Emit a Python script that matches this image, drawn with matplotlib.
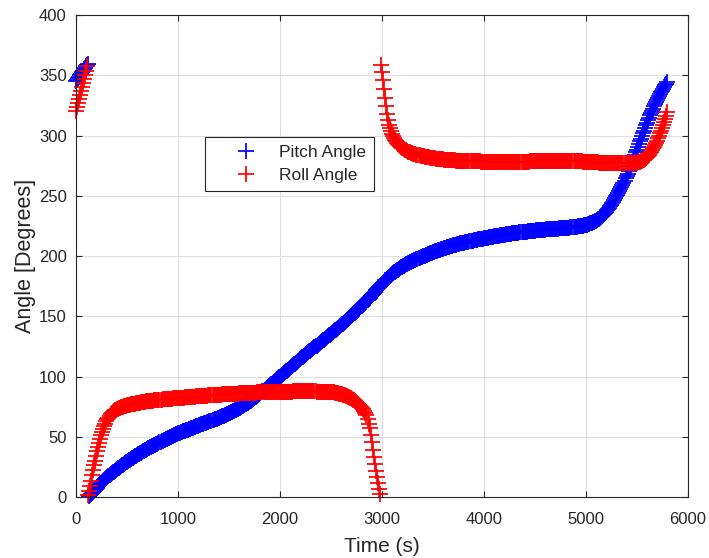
import numpy as np
import matplotlib
matplotlib.use("Agg")
import matplotlib.pyplot as plt

# ---------------- data ----------------
t0 = 0.0      # first sample time [s]
dt = 10.0     # sample spacing [s]

pitch_deg = [
    345.0, 346.3, 347.6, 348.9, 350.2, 351.5, 352.8, 354.0, 355.2, 356.4,   # 0
    357.6, 358.7, 359.8, 0.8, 1.7, 2.6, 3.5, 4.4, 5.3, 6.2,                  # 100
    7.1, 8.0, 8.9, 9.8, 10.7, 11.6, 12.5, 13.3, 14.1, 15.0,                  # 200
    15.8, 16.6, 17.4, 18.2, 19.0, 19.8, 20.5, 21.2, 22.0, 22.7,              # 300
    23.4, 24.0, 24.6, 25.2, 25.8, 26.4, 27.0, 27.6, 28.2, 28.8,              # 400
    29.4, 30.0, 30.6, 31.1, 31.7, 32.2, 32.8, 33.4, 33.9, 34.5,              # 500
    35.0, 35.5, 36.0, 36.5, 37.0, 37.5, 38.0, 38.5, 39.0, 39.5,              # 600
    40.0, 40.4, 40.9, 41.3, 41.8, 42.2, 42.7, 43.1, 43.6, 44.0,              # 700
    44.5, 44.9, 45.4, 45.8, 46.3, 46.7, 47.2, 47.6, 48.0, 48.5,              # 800
    48.9, 49.3, 49.7, 50.1, 50.5, 50.9, 51.3, 51.7, 52.1, 52.5,              # 900
    52.9, 53.2, 53.5, 53.8, 54.2, 54.5, 54.8, 55.1, 55.5, 55.8,              # 1000
    56.1, 56.4, 56.7, 57.1, 57.4, 57.7, 58.0, 58.3, 58.7, 59.0,              # 1100
    59.3, 59.6, 59.9, 60.3, 60.6, 60.9, 61.2, 61.5, 61.9, 62.2,              # 1200
    62.5, 62.8, 63.2, 63.5, 63.8, 64.2, 64.5, 64.9, 65.2, 65.6,              # 1300
    65.9, 66.3, 66.6, 67.0, 67.3, 67.7, 68.1, 68.5, 68.8, 69.2,              # 1400
    69.6, 70.0, 70.4, 70.8, 71.2, 71.7, 72.1, 72.5, 73.0, 73.4,              # 1500
    73.9, 74.4, 74.9, 75.4, 75.9, 76.4, 76.9, 77.4, 78.0, 78.5,              # 1600
    79.0, 79.6, 80.2, 80.8, 81.5, 82.1, 82.8, 83.5, 84.2, 84.9,              # 1700
    85.6, 86.3, 87.0, 87.7, 88.5, 89.2, 89.9, 90.6, 91.4, 92.1,              # 1800
    92.8, 93.5, 94.3, 95.0, 95.7, 96.4, 97.2, 97.9, 98.6, 99.3,              # 1900
    100.0, 100.7, 101.5, 102.2, 102.9, 103.6, 104.4, 105.1, 105.8, 106.5,    # 2000
    107.2, 107.9, 108.7, 109.4, 110.1, 110.8, 111.6, 112.3, 113.0, 113.7,    # 2100
    114.4, 115.1, 115.9, 116.6, 117.3, 118.0, 118.8, 119.5, 120.2, 120.9,    # 2200
    121.6, 122.3, 123.0, 123.7, 124.4, 125.1, 125.8, 126.5, 127.2, 127.9,    # 2300
    128.6, 129.3, 130.0, 130.7, 131.4, 132.1, 132.8, 133.5, 134.2, 134.9,    # 2400
    135.6, 136.3, 137.0, 137.7, 138.4, 139.1, 139.8, 140.5, 141.2, 141.9,    # 2500
    142.6, 143.3, 144.0, 144.8, 145.5, 146.2, 147.0, 147.7, 148.5, 149.2,    # 2600
    150.0, 150.8, 151.6, 152.4, 153.2, 154.0, 154.8, 155.6, 156.5, 157.4,    # 2700
    158.3, 159.2, 160.1, 161.0, 161.9, 162.8, 163.7, 164.6, 165.6, 166.6,    # 2800
    167.6, 168.6, 169.6, 170.6, 171.6, 172.6, 173.5, 174.5, 175.4, 176.3,    # 2900
    177.2, 178.1, 178.9, 179.8, 180.6, 181.4, 182.2, 183.0, 183.7, 184.4,    # 3000
    185.1, 185.8, 186.5, 187.1, 187.7, 188.3, 188.9, 189.5, 190.1, 190.6,    # 3100
    191.1, 191.6, 192.1, 192.6, 193.1, 193.6, 194.0, 194.5, 194.9, 195.4,    # 3200
    195.8, 196.2, 196.6, 197.0, 197.4, 197.8, 198.2, 198.6, 199.0, 199.4,    # 3300
    199.8, 200.2, 200.5, 200.9, 201.2, 201.6, 201.9, 202.3, 202.6, 203.0,    # 3400
    203.3, 203.6, 203.9, 204.2, 204.5, 204.8, 205.1, 205.4, 205.7, 206.0,    # 3500
    206.3, 206.6, 206.9, 207.1, 207.4, 207.6, 207.9, 208.1, 208.4, 208.6,    # 3600
    208.9, 209.1, 209.3, 209.6, 209.8, 210.0, 210.2, 210.5, 210.7, 210.9,    # 3700
    211.1, 211.3, 211.5, 211.7, 211.9, 212.1, 212.3, 212.5, 212.7, 212.9,    # 3800
    213.1, 213.3, 213.4, 213.6, 213.8, 214.0, 214.1, 214.3, 214.5, 214.6,    # 3900
    214.8, 215.0, 215.1, 215.3, 215.4, 215.6, 215.7, 215.9, 216.0, 216.2,    # 4000
    216.3, 216.5, 216.6, 216.8, 216.9, 217.1, 217.2, 217.4, 217.5, 217.6,    # 4100
    217.8, 217.9, 218.0, 218.2, 218.3, 218.4, 218.6, 218.7, 218.8, 218.9,    # 4200
    219.1, 219.2, 219.3, 219.4, 219.5, 219.6, 219.8, 219.9, 220.0, 220.1,    # 4300
    220.2, 220.3, 220.4, 220.5, 220.6, 220.7, 220.8, 220.9, 221.0, 221.1,    # 4400
    221.2, 221.3, 221.4, 221.4, 221.5, 221.6, 221.7, 221.8, 221.8, 221.9,    # 4500
    222.0, 222.1, 222.1, 222.2, 222.3, 222.4, 222.4, 222.5, 222.6, 222.6,    # 4600
    222.7, 222.8, 222.8, 222.9, 223.0, 223.0, 223.1, 223.2, 223.2, 223.3,    # 4700
    223.4, 223.5, 223.5, 223.6, 223.7, 223.8, 223.9, 224.0, 224.1, 224.2,    # 4800
    224.3, 224.4, 224.6, 224.7, 224.9, 225.0, 225.2, 225.4, 225.6, 225.8,    # 4900
    226.0, 226.2, 226.5, 226.8, 227.1, 227.4, 227.8, 228.2, 228.6, 229.0,    # 5000
    229.5, 230.0, 230.6, 231.2, 231.9, 232.6, 233.4, 234.2, 235.1, 236.0,    # 5100
    237.0, 238.0, 239.1, 240.2, 241.4, 242.6, 243.9, 245.2, 246.6, 248.0,    # 5200
    249.5, 251.0, 252.6, 254.2, 255.8, 257.5, 259.2, 260.9, 262.7, 264.5,    # 5300
    266.4, 268.4, 270.5, 272.6, 274.8, 277.0, 279.2, 281.4, 283.7, 286.0,    # 5400
    288.3, 290.6, 292.9, 295.2, 297.5, 299.8, 302.0, 304.2, 306.4, 308.6,    # 5500
    310.7, 312.8, 314.8, 316.8, 318.7, 320.6, 322.4, 324.2, 325.9, 327.6,    # 5600
    329.3, 331.0, 332.7, 334.3, 335.9, 337.4, 338.9, 340.3, 341.7, 343.0,    # 5700
    344.3,                                                                   # 5800
]

roll_deg = [
    320.0, 323.4, 326.8, 330.2, 333.6, 337.0, 340.4, 343.8, 347.2, 350.6,   # 0
    354.0, 357.6, 1.4, 5.4, 9.6, 13.8, 18.0, 22.2, 26.4, 30.4,               # 100
    34.4, 38.2, 41.8, 45.2, 48.4, 51.4, 54.1, 56.6, 58.9, 61.0,              # 200
    62.9, 64.6, 66.1, 67.4, 68.6, 69.6, 70.5, 71.3, 72.0, 72.6,              # 300
    73.1, 73.5, 73.9, 74.2, 74.5, 74.8, 75.1, 75.4, 75.6, 75.9,              # 400
    76.1, 76.3, 76.5, 76.7, 76.9, 77.1, 77.3, 77.5, 77.7, 77.9,              # 500
    78.0, 78.2, 78.3, 78.5, 78.6, 78.8, 78.9, 79.1, 79.2, 79.4,              # 600
    79.5, 79.6, 79.7, 79.8, 79.9, 80.1, 80.2, 80.3, 80.4, 80.5,              # 700
    80.6, 80.7, 80.8, 80.9, 81.0, 81.1, 81.1, 81.2, 81.3, 81.4,              # 800
    81.5, 81.6, 81.7, 81.7, 81.8, 81.9, 82.0, 82.1, 82.1, 82.2,              # 900
    82.3, 82.4, 82.4, 82.5, 82.6, 82.7, 82.7, 82.8, 82.9, 82.9,              # 1000
    83.0, 83.1, 83.1, 83.2, 83.3, 83.4, 83.4, 83.5, 83.6, 83.6,              # 1100
    83.7, 83.8, 83.8, 83.9, 84.0, 84.1, 84.1, 84.2, 84.3, 84.3,              # 1200
    84.4, 84.5, 84.5, 84.6, 84.6, 84.7, 84.8, 84.8, 84.9, 84.9,              # 1300
    85.0, 85.1, 85.1, 85.2, 85.2, 85.3, 85.4, 85.4, 85.5, 85.5,              # 1400
    85.6, 85.6, 85.7, 85.7, 85.8, 85.8, 85.9, 85.9, 86.0, 86.0,              # 1500
    86.1, 86.1, 86.2, 86.2, 86.3, 86.3, 86.4, 86.4, 86.5, 86.5,              # 1600
    86.6, 86.6, 86.6, 86.7, 86.7, 86.8, 86.8, 86.8, 86.9, 86.9,              # 1700
    87.0, 87.0, 87.0, 87.1, 87.1, 87.1, 87.2, 87.2, 87.2, 87.3,              # 1800
    87.3, 87.3, 87.3, 87.4, 87.4, 87.4, 87.4, 87.4, 87.5, 87.5,              # 1900
    87.5, 87.5, 87.5, 87.5, 87.6, 87.6, 87.6, 87.6, 87.6, 87.6,              # 2000
    87.6, 87.6, 87.6, 87.7, 87.7, 87.7, 87.7, 87.7, 87.7, 87.7,              # 2100
    87.7, 87.7, 87.7, 87.7, 87.7, 87.7, 87.7, 87.7, 87.7, 87.7,              # 2200
    87.7, 87.7, 87.7, 87.7, 87.7, 87.7, 87.6, 87.6, 87.6, 87.6,              # 2300
    87.6, 87.6, 87.5, 87.5, 87.5, 87.4, 87.4, 87.3, 87.3, 87.2,              # 2400
    87.2, 87.1, 87.0, 86.9, 86.8, 86.6, 86.4, 86.2, 86.0, 85.8,              # 2500
    85.5, 85.3, 85.0, 84.7, 84.4, 84.0, 83.6, 83.2, 82.8, 82.4,              # 2600
    82.0, 81.5, 81.0, 80.4, 79.8, 79.1, 78.4, 77.6, 76.8, 75.9,              # 2700
    75.0, 74.0, 72.9, 71.6, 70.0, 68.0, 65.0, 61.0, 57.0, 51.5,              # 2800
    45.5, 39.5, 33.5, 27.5, 22.0, 16.5, 11.5, 7.0, 3.0, 358.5,               # 2900
    353.0, 346.0, 338.5, 331.0, 324.5, 318.0, 313.0, 309.0, 306.0, 303.5,    # 3000
    301.3, 299.4, 297.8, 296.4, 295.1, 294.0, 293.0, 292.1, 291.3, 290.6,    # 3100
    289.9, 289.3, 288.7, 288.2, 287.7, 287.2, 286.8, 286.4, 286.0, 285.6,    # 3200
    285.3, 285.0, 284.7, 284.4, 284.1, 283.9, 283.7, 283.5, 283.3, 283.1,    # 3300
    282.9, 282.7, 282.5, 282.4, 282.2, 282.0, 281.9, 281.7, 281.6, 281.4,    # 3400
    281.3, 281.2, 281.0, 280.9, 280.8, 280.7, 280.6, 280.5, 280.4, 280.3,    # 3500
    280.2, 280.1, 280.0, 280.0, 279.9, 279.8, 279.7, 279.7, 279.6, 279.5,    # 3600
    279.5, 279.4, 279.4, 279.3, 279.3, 279.2, 279.2, 279.1, 279.1, 279.0,    # 3700
    279.0, 279.0, 278.9, 278.9, 278.9, 278.8, 278.8, 278.8, 278.7, 278.7,    # 3800
    278.7, 278.7, 278.6, 278.6, 278.6, 278.6, 278.6, 278.5, 278.5, 278.5,    # 3900
    278.5, 278.5, 278.5, 278.5, 278.5, 278.5, 278.5, 278.5, 278.5, 278.5,    # 4000
    278.4, 278.4, 278.4, 278.4, 278.4, 278.4, 278.4, 278.4, 278.4, 278.4,    # 4100
    278.4, 278.4, 278.4, 278.4, 278.4, 278.4, 278.4, 278.4, 278.4, 278.4,    # 4200
    278.4, 278.4, 278.4, 278.4, 278.4, 278.5, 278.5, 278.5, 278.5, 278.5,    # 4300
    278.5, 278.5, 278.5, 278.5, 278.5, 278.6, 278.6, 278.6, 278.6, 278.6,    # 4400
    278.6, 278.6, 278.7, 278.7, 278.7, 278.7, 278.7, 278.8, 278.8, 278.8,    # 4500
    278.8, 278.8, 278.8, 278.9, 278.9, 278.9, 278.9, 278.9, 279.0, 279.0,    # 4600
    279.0, 279.0, 279.0, 279.0, 279.0, 279.0, 279.0, 279.0, 279.0, 279.0,    # 4700
    279.0, 279.0, 279.0, 279.0, 279.0, 278.9, 278.9, 278.9, 278.9, 278.8,    # 4800
    278.8, 278.8, 278.7, 278.7, 278.7, 278.6, 278.6, 278.5, 278.5, 278.4,    # 4900
    278.4, 278.3, 278.3, 278.2, 278.1, 278.1, 278.0, 277.9, 277.9, 277.8,    # 5000
    277.8, 277.7, 277.7, 277.6, 277.6, 277.5, 277.5, 277.4, 277.4, 277.3,    # 5100
    277.3, 277.3, 277.2, 277.2, 277.1, 277.1, 277.1, 277.0, 277.0, 277.0,    # 5200
    276.9, 276.9, 276.9, 276.9, 276.9, 276.9, 276.9, 277.0, 277.0, 277.0,    # 5300
    277.0, 277.0, 277.1, 277.1, 277.2, 277.2, 277.3, 277.4, 277.4, 277.5,    # 5400
    277.6, 277.8, 278.0, 278.3, 278.6, 279.0, 279.5, 280.1, 280.8, 281.6,    # 5500
    282.4, 283.3, 284.3, 285.4, 286.6, 287.9, 289.3, 290.8, 292.4, 294.1,    # 5600
    295.9, 297.8, 299.8, 301.9, 304.1, 306.4, 308.8, 311.3, 313.9, 316.6,    # 5700
    319.4,                                                                   # 5800
]

series_labels = ["Pitch Angle", "Roll Angle"]
series_colors = ["#0000ff", "#ff0000"]
x_ticks = [0, 1000, 2000, 3000, 4000, 5000, 6000]
y_ticks = [0, 50, 100, 150, 200, 250, 300, 350, 400]
x_label = "Time (s)"
y_label = "Angle [Degrees]"

# ---------------- figure ----------------
plt.rcParams["font.family"] = ["Liberation Sans", "DejaVu Sans"]
ink = "#262626"

fig = plt.figure(figsize=(7.09, 5.58), dpi=100)
ax = fig.add_axes([0.107, 0.109, 0.863, 0.864])

for vals, lab, col in zip([pitch_deg, roll_deg], series_labels, series_colors):
    tt = t0 + dt * np.arange(len(vals))
    ax.plot(tt, vals, linestyle="none", marker="+", markersize=11,
            markeredgewidth=1.25, color=col, label=lab, clip_on=False)

ax.set_xlim(x_ticks[0], x_ticks[-1])
ax.set_ylim(y_ticks[0], y_ticks[-1])
ax.set_xticks(x_ticks)
ax.set_yticks(y_ticks)
ax.grid(True, color="#dedede", linewidth=0.8)
ax.set_axisbelow(True)
ax.tick_params(direction="in", top=True, right=True, length=4, width=0.8,
               colors=ink, labelsize=12)
ax.tick_params(axis="x", pad=11)
ax.tick_params(axis="y", pad=6.5)
for s in ax.spines.values():
    s.set_color(ink)
    s.set_linewidth(0.8)

ax.set_xlabel(x_label, fontsize=15, color=ink, labelpad=7)
ax.set_ylabel(y_label, fontsize=15.5, color=ink, labelpad=2)

leg = ax.legend(loc="upper left", bbox_to_anchor=(0.211, 0.747),
                fancybox=False, edgecolor=ink, framealpha=1, fontsize=12.5,
                handlelength=3.8, borderaxespad=0, borderpad=0.45,
                labelspacing=0.45, handletextpad=0.0)
leg.get_frame().set_linewidth(0.8)
for txt in leg.get_texts():
    txt.set_color(ink)

fig.savefig("out.png", dpi=100)
